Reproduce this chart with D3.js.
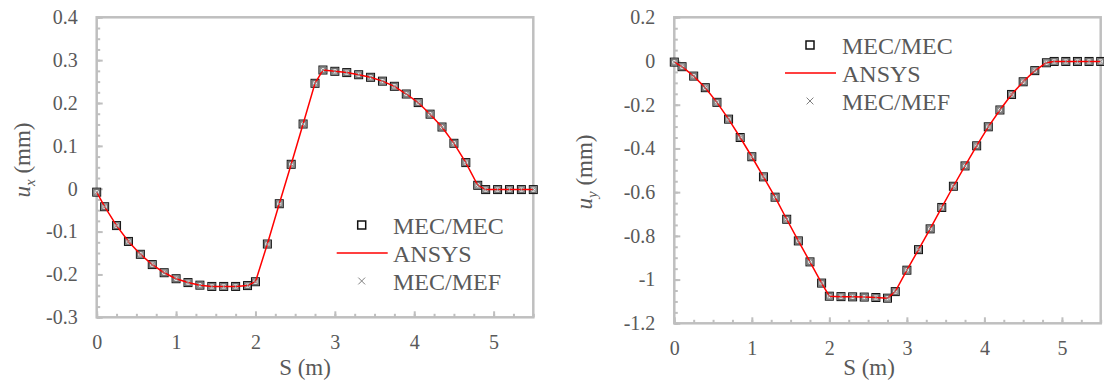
<!DOCTYPE html>
<html>
<head>
<meta charset="utf-8">
<script src="https://cdn.jsdelivr.net/npm/d3@7"></script>
<style>
  html, body { margin: 0; padding: 0; background: #ffffff; }
  svg { display: block; }
  svg text { font-family: "Liberation Serif", "Times New Roman", serif !important; fill: #595959; }
</style>
</head>
<body>
<svg id="chart" width="1104" height="380"></svg>
<script>
// Arc length along the path (m)
const sPos = [0, 0.1, 0.25, 0.4, 0.55, 0.7, 0.85, 1.0, 1.15, 1.3, 1.45, 1.6, 1.75, 1.9,
  2.0, 2.15, 2.3, 2.45, 2.6, 2.75, 2.85, 3.0, 3.15, 3.3, 3.45, 3.6, 3.75, 3.9, 4.05,
  4.2, 4.35, 4.5, 4.65, 4.8, 4.9, 5.05, 5.2, 5.35, 5.5];

// Horizontal displacement u_x (mm)
const uxValues = [-0.008, -0.042, -0.086, -0.123, -0.153, -0.177, -0.196, -0.210, -0.219,
  -0.225, -0.228, -0.228, -0.228, -0.226, -0.217, -0.129, -0.035, 0.057, 0.151, 0.246,
  0.277, 0.274, 0.271, 0.266, 0.260, 0.251, 0.239, 0.221, 0.201, 0.174, 0.144, 0.106,
  0.061, 0.008, -0.002, -0.002, -0.002, -0.002, -0.002];

// Vertical displacement u_y (mm)
const uyValues = [-0.005, -0.026, -0.069, -0.122, -0.189, -0.266, -0.350, -0.438, -0.530,
  -0.623, -0.724, -0.823, -0.919, -1.016, -1.076, -1.078, -1.079, -1.080, -1.082, -1.085,
  -1.055, -0.957, -0.863, -0.768, -0.670, -0.573, -0.480, -0.388, -0.301, -0.224, -0.153,
  -0.095, -0.044, -0.008, -0.002, -0.002, -0.002, -0.002, -0.002];

const xTicks = [0, 1, 2, 3, 4, 5];
const xTickLabels = ["0", "1", "2", "3", "4", "5"];
const uxTicks = [-0.3, -0.2, -0.1, 0, 0.1, 0.2, 0.3, 0.4];
const uxTickLabels = ["-0.3", "-0.2", "-0.1", "0", "0.1", "0.2", "0.3", "0.4"];
const uyTicks = [-1.2, -1.0, -0.8, -0.6, -0.4, -0.2, 0, 0.2];
const uyTickLabels = ["-1.2", "-1", "-0.8", "-0.6", "-0.4", "-0.2", "0", "0.2"];
const seriesNames = ["MEC/MEC", "ANSYS", "MEC/MEF"];

const svg = d3.select("#chart");
const axisGray = "#bfbfbf";
const textGray = "#595959";
const serif = "'Liberation Serif', 'Times New Roman', serif";

function styleTicks(a) {
  a.select(".domain").remove();
  a.selectAll("line").attr("stroke", axisGray).attr("stroke-width", 2);
  a.selectAll("text").attr("font-size", 20).attr("fill", textGray)
    .style("font-family", serif);
}

function drawPanel(p) {
  const x = d3.scaleLinear().domain([0, 5.5]).range([p.left, p.right]);
  const y = d3.scaleLinear().domain(p.yDomain).range([p.bottom, p.top]);
  const g = svg.append("g");

  // minor ticks (inside)
  const minorX = d3.range(0, 5.5001, 0.25);
  const minorY = d3.range(p.yDomain[0], p.yDomain[1] + 1e-9, p.yMinor);
  g.append("g").attr("transform", `translate(0,${p.bottom})`)
    .call(d3.axisBottom(x).tickValues(minorX).tickSize(-3.5).tickFormat(""))
    .call(styleTicks);
  g.append("g").attr("transform", `translate(${p.left},0)`)
    .call(d3.axisLeft(y).tickValues(minorY).tickSize(-3.5).tickFormat(""))
    .call(styleTicks);

  // major ticks with labels
  g.append("g").attr("transform", `translate(0,${p.bottom})`)
    .call(d3.axisBottom(x).tickValues(xTicks).tickSize(-6).tickPadding(18)
      .tickFormat((d, i) => xTickLabels[i]))
    .call(styleTicks);
  g.append("g").attr("transform", `translate(${p.left},0)`)
    .call(d3.axisLeft(y).tickValues(p.yTicks).tickSize(-6).tickPadding(19)
      .tickFormat((d, i) => p.yTickLabels[i]))
    .call(styleTicks);

  // plot frame
  g.append("rect")
    .attr("x", p.left).attr("y", p.top)
    .attr("width", p.right - p.left).attr("height", p.bottom - p.top)
    .attr("fill", "none").attr("stroke", axisGray).attr("stroke-width", 2.5);

  const pts = sPos.map((s, i) => [s, p.values[i]]);

  // MEC/MEC squares
  const sq = g.append("g");
  sq.selectAll("rect.outer").data(pts).join("rect").attr("class", "outer")
    .attr("x", d => x(d[0]) - 4).attr("y", d => y(d[1]) - 4)
    .attr("width", 8).attr("height", 8)
    .attr("fill", "#d4d4d4").attr("stroke", "#111111").attr("stroke-width", 1);
  sq.selectAll("rect.inner").data(pts).join("rect").attr("class", "inner")
    .attr("x", d => x(d[0]) - 2.8).attr("y", d => y(d[1]) - 2.8)
    .attr("width", 5.6).attr("height", 5.6)
    .attr("fill", "#e6e6e6").attr("stroke", "#6e6e6e").attr("stroke-width", 1.2);

  // ANSYS line
  g.append("path").datum(pts)
    .attr("d", d3.line().x(d => x(d[0])).y(d => y(d[1])))
    .attr("fill", "none").attr("stroke", "#ff0000").attr("stroke-width", 1.5);

  // MEC/MEF crosses
  g.append("g").selectAll("path").data(pts).join("path")
    .attr("d", d3.symbol(d3.symbolX, 14)())
    .attr("transform", d => `translate(${x(d[0])},${y(d[1])})`)
    .attr("fill", "none").attr("stroke", "#8c8c8c").attr("stroke-width", 1);

  // legend
  const L = p.legend;
  g.append("rect").attr("x", L.mx - 4).attr("y", L.y0 - 4).attr("width", 8).attr("height", 8)
    .attr("fill", "#ffffff").attr("stroke", "#111111").attr("stroke-width", 1.5);
  g.append("line").attr("x1", L.mx - 25).attr("x2", L.mx + 26)
    .attr("y1", L.y0 + L.dy).attr("y2", L.y0 + L.dy)
    .attr("stroke", "#ff0000").attr("stroke-width", 1.5);
  g.append("path").attr("d", d3.symbol(d3.symbolX, 32)())
    .attr("transform", `translate(${L.mx},${L.y0 + 2 * L.dy})`)
    .attr("fill", "none").attr("stroke", "#7f7f7f").attr("stroke-width", 1);
  g.selectAll("text.leg").data(seriesNames).join("text").attr("class", "leg")
    .attr("x", L.tx).attr("y", (d, i) => L.y0 + 8.5 + i * L.dy)
    .attr("font-size", 24).text(d => d);

  // axis titles
  g.append("text").attr("x", p.xTitleX).attr("y", 375)
    .attr("text-anchor", "middle").attr("font-size", 23).text("S (m)");
  const yt = g.append("text")
    .attr("transform", `translate(${p.yTitleX},${p.yTitleY}) rotate(-90)`)
    .attr("text-anchor", "middle").attr("font-size", 23);
  yt.append("tspan").attr("font-style", "italic").text("u");
  yt.append("tspan").attr("font-style", "italic").attr("font-size", 15)
    .attr("dy", 5).text(p.sub);
  yt.append("tspan").attr("dy", -5).text(" (mm)");
}

drawPanel({
  left: 96.7, right: 533.3, top: 17.3, bottom: 317.3,
  yDomain: [-0.3, 0.4], yMinor: 0.025,
  yTicks: uxTicks, yTickLabels: uxTickLabels,
  values: uxValues, sub: "x",
  legend: { mx: 361.7, tx: 393, y0: 225, dy: 28 },
  xTitleX: 305, yTitleX: 30, yTitleY: 160
});

drawPanel({
  left: 674.3, right: 1100.7, top: 17.3, bottom: 323.3,
  yDomain: [-1.2, 0.2], yMinor: 0.05,
  yTicks: uyTicks, yTickLabels: uyTickLabels,
  values: uyValues, sub: "y",
  legend: { mx: 810, tx: 842, y0: 45, dy: 28 },
  xTitleX: 869, yTitleX: 592, yTitleY: 172
});
</script>
</body>
</html>
